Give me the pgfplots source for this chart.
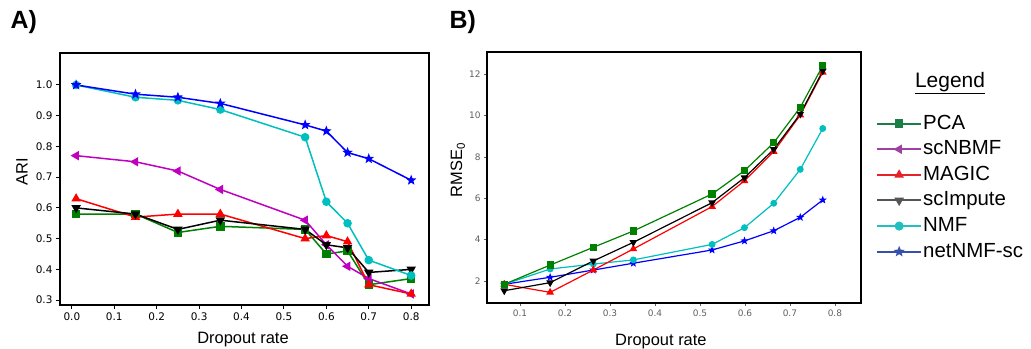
\documentclass[border=0pt]{standalone}
\usepackage{fontspec}
\setmainfont{Liberation Sans}
\newfontfamily\tickfont{DejaVu Sans}
\usepackage{pgfplots}
\usepackage{pgfplotstable}
\pgfplotsset{compat=1.18}

\definecolor{cg}{HTML}{008000}
\definecolor{cm}{HTML}{BF00BF}
\definecolor{cr}{HTML}{FF0000}
\definecolor{ck}{HTML}{000000}
\definecolor{cc}{HTML}{00BFBF}
\definecolor{cb}{HTML}{0000FF}
\definecolor{lg}{HTML}{1A7F45}
\definecolor{lm}{HTML}{A040A0}
\definecolor{lr}{HTML}{E82028}
\definecolor{lk}{HTML}{555555}
\definecolor{lc}{HTML}{22BFC0}
\definecolor{lb}{HTML}{3550A8}
\definecolor{tgrey}{HTML}{606060}

\pgfdeclareplotmark{fstar}{%
 \pgfpathmoveto{\pgfpointpolar{90}{\pgfplotmarksize}}%
 \pgfpathlineto{\pgfpointpolar{126}{0.42*\pgfplotmarksize}}%
 \pgfpathlineto{\pgfpointpolar{162}{\pgfplotmarksize}}%
 \pgfpathlineto{\pgfpointpolar{198}{0.42*\pgfplotmarksize}}%
 \pgfpathlineto{\pgfpointpolar{234}{\pgfplotmarksize}}%
 \pgfpathlineto{\pgfpointpolar{270}{0.42*\pgfplotmarksize}}%
 \pgfpathlineto{\pgfpointpolar{306}{\pgfplotmarksize}}%
 \pgfpathlineto{\pgfpointpolar{342}{0.42*\pgfplotmarksize}}%
 \pgfpathlineto{\pgfpointpolar{18}{\pgfplotmarksize}}%
 \pgfpathlineto{\pgfpointpolar{54}{0.42*\pgfplotmarksize}}%
 \pgfpathclose\pgfusepathqfillstroke}

% ARI data (panel A)
\pgfplotstableread{
x     pca  scnbmf magic scimpute nmf  netnmf
0.01  0.58 0.77   0.63  0.60     1.00 1.00
0.15  0.58 0.75   0.57  0.58     0.96 0.97
0.25  0.52 0.72   0.58  0.53     0.95 0.96
0.35  0.54 0.66   0.58  0.56     0.92 0.94
0.55  0.53 0.56   0.50  0.53     0.83 0.87
0.60  0.45 0.48   0.51  0.48     0.62 0.85
0.65  0.46 0.41   0.49  0.47     0.55 0.78
0.70  0.35 0.37   0.35  0.39     0.43 0.76
0.80  0.37 0.32   0.32  0.40     0.38 0.69
}\ari

% RMSE0 data (panel B)
\pgfplotstableread{
x      pca   magic scimpute nmf  netnmf
0.065  1.84  1.84  1.53     1.84 1.84
0.167  2.77  1.45  1.92     2.58 2.18
0.263  3.63  2.53  2.97     2.82 2.53
0.352  4.42  3.55  3.87     3.02 2.86
0.527  6.21  5.60  5.79     3.77 3.50
0.599  7.34  6.85  7.00     4.58 3.94
0.664  8.69  8.26  8.37     5.76 4.43
0.723  10.40 10.03 10.08    7.40 5.08
0.773  12.42 12.10 12.17    9.38 5.92
}\rmse

\begin{document}
\begin{tikzpicture}
\useasboundingbox (0,0) rectangle (1031bp,-349bp);

% Panel A
\begin{axis}[
  at={(60bp,-305bp)}, anchor=south west,
  width=369bp, height=252bp, scale only axis,
  xmin=-0.028, xmax=0.842, ymin=0.284, ymax=1.104,
  axis line style={line width=2.8bp},
  xtick={0,0.1,0.2,0.3,0.4,0.5,0.6,0.7,0.8},
  ytick={0.3,0.4,0.5,0.6,0.7,0.8,0.9,1.0},
  tick align=outside, tick pos=left,
  major tick length=4bp,
  tick style={black, line width=1bp},
  ticklabel style={font=\tickfont\fontsize{10.5}{12}\selectfont},
  /pgf/number format/.cd, fixed, fixed zerofill, precision=1, assume math mode=true,
  /pgfplots/.cd,
  xlabel={Dropout rate}, ylabel={ARI},
  label style={font=\fontsize{16.5}{19}\selectfont},
  xlabel style={at={(axis description cs:0.496,-0.139)}, anchor=center},
  ylabel style={at={(axis description cs:-0.103,0.53)}, anchor=center},
  every axis plot/.append style={line width=1.5bp},
]
\addplot[color=cg, mark=square*, mark size=3.5bp, mark options={fill=cg}] table[x=x,y=pca] {\ari};
\addplot[color=cm, mark=triangle*, mark size=4bp, mark options={rotate=90, fill=cm}] table[x=x,y=scnbmf] {\ari};
\addplot[color=cr, mark=triangle*, mark size=4bp, mark options={fill=cr}] table[x=x,y=magic] {\ari};
\addplot[color=ck, mark=triangle*, mark size=4bp, mark options={rotate=180, fill=ck}] table[x=x,y=scimpute] {\ari};
\addplot[color=cc, mark=*, mark size=3.5bp, mark options={fill=cc}] table[x=x,y=nmf] {\ari};
\addplot[color=cb, mark=fstar, mark size=3.4bp, mark options={fill=cb}] table[x=x,y=netnmf] {\ari};
\end{axis}

% Panel B
\begin{axis}[
  at={(487bp,-303bp)}, anchor=south west,
  width=374bp, height=251bp, scale only axis,
  xmin=0.0267, xmax=0.858, ymin=0.935, ymax=13.08,
  axis line style={line width=2.3bp},
  xtick={0.1,0.2,0.3,0.4,0.5,0.6,0.7,0.8},
  ytick={2,4,6,8,10,12},
  tick align=outside, tick pos=left,
  major tick length=3bp,
  tick style={tgrey, line width=0.8bp},
  ticklabel style={font=\tickfont\fontsize{9}{11}\selectfont, text=tgrey},
  xticklabel style={/pgf/number format/.cd, fixed, fixed zerofill, precision=1},
  /pgf/number format/assume math mode=true,
  xlabel={Dropout rate}, ylabel={RMSE\textsubscript{0}},
  label style={font=\fontsize{16.5}{19}\selectfont},
  xlabel style={at={(axis description cs:0.465,-0.155)}, anchor=center},
  ylabel style={at={(axis description cs:-0.078,0.53)}, anchor=center},
  every axis plot/.append style={line width=1.2bp},
  legend style={draw=none, fill=none, at={(1.032,0.765)}, anchor=north west,
    font=\fontsize{20.5}{24}\selectfont, row sep=4.6bp,
    nodes={inner sep=1bp, text height=15bp, text depth=4bp},
    /tikz/every even column/.append style={column sep=4bp}},
  legend cell align=left,
  legend image code/.code={\draw[mark repeat=2, mark phase=2, #1] plot coordinates {(0bp,0bp) (22bp,0bp) (44bp,0bp)};},
]
\addlegendimage{color=lg, line width=2bp, mark=square*, mark size=3.2bp, mark options={fill=lg}}
\addlegendentry{PCA}
\addlegendimage{color=lm, line width=2bp, mark=triangle*, mark size=3.6bp, mark options={rotate=90, fill=lm}}
\addlegendentry{scNBMF}
\addlegendimage{color=lr, line width=2bp, mark=triangle*, mark size=3.6bp, mark options={fill=lr}}
\addlegendentry{MAGIC}
\addlegendimage{color=lk, line width=2bp, mark=triangle*, mark size=3.6bp, mark options={rotate=180, fill=lk}}
\addlegendentry{scImpute}
\addlegendimage{color=lc, line width=2bp, mark=*, mark size=3.5bp, mark options={fill=lc}}
\addlegendentry{NMF}
\addlegendimage{color=lb, line width=2bp, mark=fstar, mark size=3bp, mark options={fill=lb}}
\addlegendentry{netNMF-sc}
\addplot[forget plot, color=cb, mark=fstar, mark size=2.6bp, mark options={fill=cb}] table[x=x,y=netnmf] {\rmse};
\addplot[forget plot, color=cc, mark=*, mark size=2.8bp, mark options={fill=cc}] table[x=x,y=nmf] {\rmse};
\addplot[forget plot, color=cr, mark=triangle*, mark size=3.3bp, mark options={fill=cr}] table[x=x,y=magic] {\rmse};
\addplot[forget plot, color=ck, mark=triangle*, mark size=3.3bp, mark options={rotate=180, fill=ck}] table[x=x,y=scimpute] {\rmse};
\addplot[forget plot, color=cg, mark=square*, mark size=3bp, mark options={fill=cg}] table[x=x,y=pca] {\rmse};
\end{axis}

\node[anchor=west, font=\bfseries\fontsize{25}{28}\selectfont] at (7bp,-22bp) {A)};
\node[anchor=west, font=\bfseries\fontsize{25}{28}\selectfont] at (446bp,-22bp) {B)};
\node[font=\fontsize{21}{24}\selectfont] at (950bp,-83bp) {\underline{Legend}};
\end{tikzpicture}
\end{document}
